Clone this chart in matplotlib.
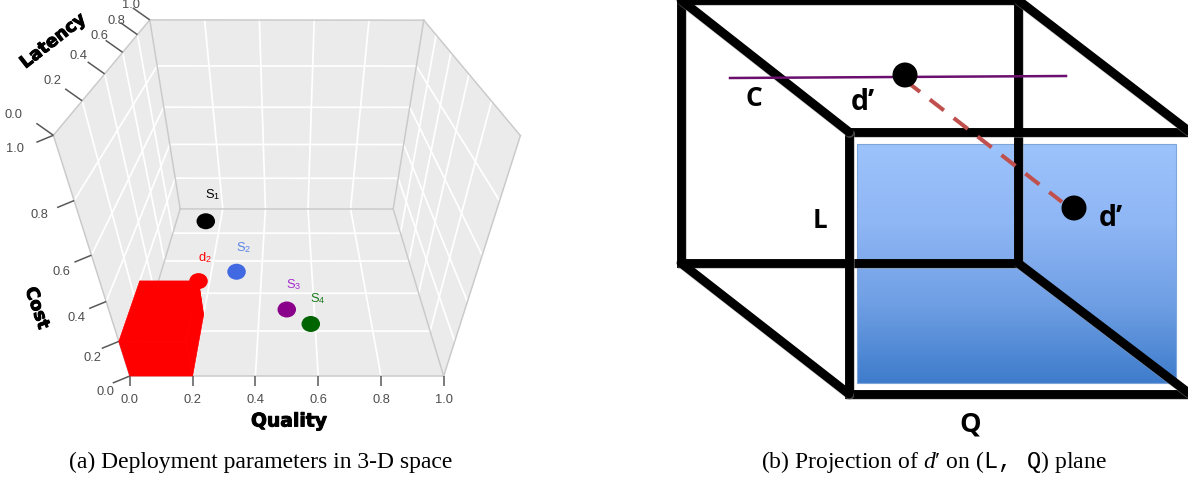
import numpy as np
import matplotlib
matplotlib.use("Agg")
import matplotlib.pyplot as plt
from matplotlib.patches import Ellipse, Polygon, Rectangle
from matplotlib.colors import LinearSegmentedColormap
import matplotlib.patheffects as pe

plt.rcParams['font.family'] = ['Liberation Sans', 'DejaVu Sans']
plt.rcParams['mathtext.fontset'] = 'custom'
plt.rcParams['mathtext.rm'] = 'Liberation Sans'
plt.rcParams['mathtext.it'] = 'Liberation Serif:italic'
plt.rcParams['mathtext.tt'] = 'Liberation Mono'

# ---- data -----
tick_values = [0.0, 0.2, 0.4, 0.6, 0.8, 1.0]
tick_labels = ['0.0', '0.2', '0.4', '0.6', '0.8', '1.0']
series_names = ['S1', 'd2', 'S2', 'S3', 'S4']
quality = [0.133, 0.20, 0.30, 0.50, 0.585]
cost = [0.0, 0.20, 0.0, 0.0, 0.0]
latency = [0.895, 0.28, 0.53, 0.31, 0.235]
region_quality = [0.0, 0.20]
region_cost = [0.0, 0.20]
region_latency = [0.0, 0.28]

# ---- layout -----
W, H = 1188, 480
cube_corners = {(0, 0, 0): (130, 376), (1, 0, 0): (444, 376),
                (0, 1, 0): (53, 135), (1, 1, 0): (520, 136),
                (0, 0, 1): (180, 209), (1, 0, 1): (393, 209),
                (0, 1, 1): (150, 20), (1, 1, 1): (424, 20)}

A, b = [], []
for (q, c, l), (u, v) in cube_corners.items():
    A.append([q, c, l, 1, 0, 0, 0, 0, -u * q, -u * c, -u * l]); b.append(u)
    A.append([0, 0, 0, 0, q, c, l, 1, -v * q, -v * c, -v * l]); b.append(v)
P = np.append(np.linalg.lstsq(np.array(A, float), np.array(b, float), rcond=None)[0], 1).reshape(3, 4)


def project(q, c, l):
    x = P @ np.array([q, c, l, 1.0])
    return x[0] / x[2], x[1] / x[2]


fig = plt.figure(figsize=(W / 100, H / 100), dpi=100)
ax = fig.add_axes([0, 0, 1, 1])
ax.set_axis_off()

WALL = '#ebebeb'
EDGE = '#c9c9c9'
GRID = '#ffffff'
TICK = '#595959'
LABEL = '#4d4d4d'


def face(fn):
    pts = [project(*fn(s, t)) for s, t in [(0, 0), (1, 0), (1, 1), (0, 1)]]
    ax.add_patch(Polygon(pts, closed=True, facecolor=WALL, edgecolor='none', zorder=1))


faces = [lambda s, t: (s, t, 1), lambda s, t: (s, 0, t),
         lambda s, t: (0, s, t), lambda s, t: (1, s, t)]
for f in faces:
    face(f)


def seg(fn, **kw):
    a, b_ = project(*fn(0)), project(*fn(1))
    ax.plot([a[0], b_[0]], [a[1], b_[1]], solid_capstyle='butt', **kw)


gkw = dict(color=GRID, lw=1.25, zorder=2)
for v in tick_values[1:-1]:
    seg(lambda s: (v, s, 1), **gkw)   # back wall
    seg(lambda s: (s, v, 1), **gkw)
    seg(lambda s: (v, 0, s), **gkw)   # floor
    seg(lambda s: (s, 0, v), **gkw)
    seg(lambda s: (0, v, s), **gkw)   # left wall
    seg(lambda s: (0, s, v), **gkw)
    seg(lambda s: (1, v, s), **gkw)   # right wall
    seg(lambda s: (1, s, v), **gkw)

# cube edges above the grid
for a_, b_ in [((0, 0, 0), (1, 0, 0)), ((0, 0, 0), (0, 1, 0)), ((1, 0, 0), (1, 1, 0)),
               ((0, 1, 0), (0, 1, 1)), ((1, 1, 0), (1, 1, 1)), ((0, 1, 1), (1, 1, 1)),
               ((0, 0, 1), (1, 0, 1)), ((0, 0, 1), (0, 1, 1)), ((1, 0, 1), (1, 1, 1)),
               ((0, 0, 0), (0, 0, 1)), ((1, 0, 0), (1, 0, 1))]:
    p0, p1 = project(*a_), project(*b_)
    ax.plot([p0[0], p1[0]], [p0[1], p1[1]], color=EDGE, lw=1.05, zorder=2.5)

# ticks and tick labels
tick_kw = dict(color=TICK, lw=1.1, zorder=3, solid_capstyle='butt')
txt_kw = dict(color=LABEL, fontsize=9.3, ha='center', va='center', zorder=5)
q_offset = (0, 10)
c_offset = (-17, 7)
l_offset = (-17, -12)
c_label_offsets = [(-24, 16), (-26, 17), (-30, 16), (-30, 17), (-35, 14), (-38, 14)]
l_label_offsets = [(-40, -20), (-30, -20), (-26, -18), (-23, -16), (-21, -14), (-19, -15)]
for i, (v, s) in enumerate(zip(tick_values, tick_labels)):
    x, y = project(v, 0, 0)
    ax.plot([x, x + q_offset[0]], [y, y + q_offset[1]], **tick_kw)
    ax.text(x, 400, s, **txt_kw)
    x, y = project(0, v, 0)
    ax.plot([x, x + c_offset[0]], [y, y + c_offset[1]], **tick_kw)
    ax.text(x + c_label_offsets[i][0], y + c_label_offsets[i][1], s, **txt_kw)
    x, y = project(0, 1, v)
    ax.plot([x, x + l_offset[0]], [y, y + l_offset[1]], **tick_kw)
    ax.text(x + l_label_offsets[i][0], y + l_label_offsets[i][1], s, **txt_kw)

# axis titles
heavy = [pe.withStroke(linewidth=0.7, foreground='black')]
title_kw = dict(family='DejaVu Sans', weight='bold', color='black', ha='center', va='center',
                path_effects=heavy, zorder=5)
ax.text(289, 421, 'Quality', fontsize=13.5, **title_kw)
ax.text(37, 308, 'Cost', fontsize=12.5, rotation=-71, **title_kw)
ax.text(53, 41, 'Latency', fontsize=12.7, rotation=38, **title_kw)

# red region: visible faces of the box
q0, q1 = region_quality
c0, c1 = region_cost
l0, l1 = region_latency
box_faces = [[(q0, c0, l0), (q1, c0, l0), (q1, c1, l0), (q0, c1, l0)],
             [(q0, c1, l0), (q1, c1, l0), (q1, c1, l1), (q0, c1, l1)],
             [(q1, c0, l0), (q1, c1, l0), (q1, c1, l1), (q1, c0, l1)],
             [(q0, c0, l1), (q1, c0, l1), (q1, c1, l1), (q0, c1, l1)]]
for bf in box_faces:
    ax.add_patch(Polygon([project(*p) for p in bf], closed=True, facecolor='#ff0000',
                         edgecolor='#ff0000', lw=0.5, zorder=4))

# points
dot_colors = ['#000000', '#ff0000', '#4169e1', '#8b008b', '#006400']
text_colors = ['#000000', '#ff0000', '#5b83e8', '#a52bd0', '#1a7a1a']
point_texts = [r'$\mathrm{S}_1$', r'$\mathrm{d}_2$', r'$\mathrm{S}_2$', r'$\mathrm{S}_3$', r'$\mathrm{S}_4$']
text_offsets = [(7, -27), (6, -24), (7, -24), (7, -25), (7, -25)]
for n, q, c, l, dc, tc, pt, off in zip(series_names, quality, cost, latency, dot_colors,
                                       text_colors, point_texts, text_offsets):
    x, y = project(q, c, l)
    ax.add_patch(Ellipse((x, y), 18.5, 16, facecolor=dc, edgecolor='none', zorder=6))
    ax.text(x + off[0], y + off[1], pt, color=tc, fontsize=9.3, ha='center', va='center', zorder=7)

# ---- panel (b) -----
grad = LinearSegmentedColormap.from_list('g', ['#9dc3fb', '#8fb6f5', '#6f9fe4', '#3e7ccb'])
ax.imshow(np.linspace(0, 1, 256)[:, None], cmap=grad, extent=(857, 1176, 383, 144), aspect='auto', zorder=1)
ax.add_patch(Rectangle((857, 144), 319, 239, fill=False, edgecolor='#7ea4da', lw=0.8, zorder=1))

shadow = [pe.SimpleLineShadow(offset=(0.5, -1.0), shadow_color='#999999', alpha=0.5), pe.Normal()]
back_x = [681, 1018]
back_y = [0, 263]
front_x = [849, 1190]
front_y = [132, 394]
line_kw = dict(color='black', lw=6.4, solid_capstyle='round', solid_joinstyle='miter',
               path_effects=shadow, zorder=3)
ax.plot([back_x[0], back_x[1], back_x[1], back_x[0], back_x[0]],
        [back_y[0], back_y[0], back_y[1], back_y[1], back_y[0]], **line_kw)
ax.plot([front_x[0], front_x[1]], [front_y[0], front_y[0]], **line_kw)
ax.plot([front_x[0], front_x[0], front_x[1]], [front_y[0], front_y[1], front_y[1]], **line_kw)
for i in (0, 1):
    for j in (0, 1):
        ax.plot([back_x[i], front_x[i]], [back_y[j], front_y[j]], **line_kw)

ax.plot([730, 1066], [78, 76], color='#6a0f6e', lw=1.8, zorder=4)
ax.plot([906, 1062], [81, 202], color='#c0504d', lw=2.9, dashes=(4.4, 3.1), dash_capstyle='butt', zorder=4)
for c_ in [(905, 75), (1074, 208)]:
    ax.add_patch(Ellipse(c_, 25, 25, facecolor='black', edgecolor='none', zorder=5))

lab = dict(family='Open Sans', weight='bold', color='black', ha='center', va='center', zorder=6)
ax.text(754, 98, 'C', fontsize=19, **lab)
ax.text(863, 103, 'd\u2019', fontsize=20.5, **lab)
ax.text(820, 220, 'L', fontsize=18.5, **lab)
ax.text(1111, 218, 'd\u2019', fontsize=20.5, **lab)
ax.text(970, 425, 'Q', fontsize=19.5, **lab)

# captions
cap = dict(family='Liberation Serif', color='black', fontsize=17, ha='center', va='center', zorder=6)
ax.text(260.5, 462, '(a) Deployment parameters in 3-D space', **cap)
ax.text(934, 462, "(b) Projection of $d$\u2032 on ($\\mathtt{L,\\ \\ Q}$) plane", **cap)

ax.set_xlim(0, W)
ax.set_ylim(H, 0)
fig.savefig('out.png', dpi=100)
